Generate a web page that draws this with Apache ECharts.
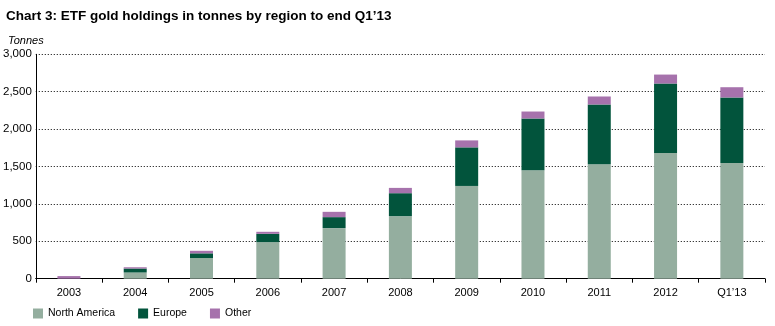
<!DOCTYPE html>
<html><head><meta charset="utf-8">
<script src="https://cdn.jsdelivr.net/npm/echarts@6/dist/echarts.min.js"></script>
<style>html,body{margin:0;padding:0;background:#fff}#c{width:775px;height:326px}</style>
</head><body><div id="c"></div>
<script>
var categories = ["2003","2004","2005","2006","2007","2008","2009","2010","2011","2012","Q1\u201913"];
var northAmerica = [0, 83, 276, 489, 676, 836, 1240, 1449, 1529, 1680, 1547];
var europe = [0, 53, 63, 111, 147, 307, 516, 693, 800, 929, 876];
var other = [35, 17, 34, 27, 71, 71, 93, 93, 107, 120, 137];
var yTicks = [0, 500, 1000, 1500, 2000, 2500, 3000];

var font = '"Liberation Sans", Arial, sans-serif';
var chart = echarts.init(document.getElementById('c'), null, {renderer:'canvas'});
chart.setOption({
  animation:false,
  textStyle:{fontFamily:font},
  title:[
    {text:'Chart 3: ETF gold holdings in tonnes by region to end Q1\u201913', left:1, top:4,
     textStyle:{fontFamily:font, fontSize:13.5, fontWeight:'bold', color:'#000'}},
    {text:'Tonnes', left:3, top:30, textStyle:{fontFamily:font, fontSize:11, fontStyle:'italic', fontWeight:'normal', color:'#000'}}
  ],
  legend:{left:33, top:308, padding:0, itemWidth:10, itemHeight:10, itemGap:23, icon:'rect',
    textStyle:{fontFamily:font, fontSize:10.5, color:'#000'},
    data:['North America','Europe','Other']},
  grid:{left:34, right:10, top:54.3, bottom:47.3, containLabel:false},
  xAxis:{type:'category', data:categories, boundaryGap:true,
    axisLine:{lineStyle:{color:'#000', width:1}},
    axisTick:{show:true, length:4, lineStyle:{color:'#000'}},
    axisLabel:{fontFamily:font, fontSize:11, color:'#000', margin:9}},
  yAxis:{type:'value', min:yTicks[0], max:yTicks[yTicks.length-1], interval:500,
    axisLine:{show:true, lineStyle:{color:'#000', width:1}},
    axisTick:{show:false},
    axisLabel:{fontFamily:font, fontSize:11.5, color:'#000', margin:4,
      formatter:function(v){return v.toLocaleString('en-US');}},
    splitLine:{show:true, lineStyle:{color:'#000', type:[1,2], width:1}}},
  series:[
    {name:'North America', type:'bar', stack:'t', data:northAmerica, barWidth:23, itemStyle:{color:'#94ae9f'}},
    {name:'Europe', type:'bar', stack:'t', data:europe, barWidth:23, itemStyle:{color:'#02543c'}},
    {name:'Other', type:'bar', stack:'t', data:other, barWidth:23, itemStyle:{color:'#a672ac'}}
  ]
});
</script></body></html>
